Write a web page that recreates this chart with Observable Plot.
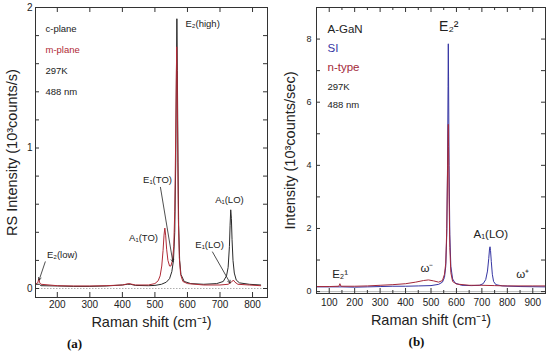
<!DOCTYPE html>
<html><head><meta charset="utf-8">
<script src="https://cdn.jsdelivr.net/npm/d3@7"></script>
<script src="https://cdn.jsdelivr.net/npm/@observablehq/plot@0.6"></script>
<style>
body{margin:0;background:#fff;}
#wrap{position:relative;width:550px;height:352px;overflow:hidden;background:#fff;}
#a,#b{position:absolute;top:0;}
#a{left:0;} #b{left:275px;}
</style></head><body>
<div id="wrap"><div id="a"></div><div id="b"></div></div>
<script>
// ---------- Panel (a) data: [Raman shift cm-1, intensity 10^3 counts/s] ----------
const cPlane = [[135,0.03],[145,0.03],[150,0.02],[200,0.018],[250,0.015],[300,0.015],[350,0.018],[400,0.025],[415,0.03],[425,0.03],[440,0.022],[480,0.02],[500,0.022],[520,0.03],[535,0.045],[545,0.07],[552,0.12],[557,0.2],[561,0.4],[564,0.9],[566,1.5],[567.5,1.92],[569,1.55],[571,0.9],[573,0.45],[576,0.2],[580,0.1],[590,0.05],[610,0.035],[650,0.03],[690,0.035],[710,0.05],[720,0.09],[725,0.15],[729,0.3],[731,0.45],[733,0.56],[735,0.5],[737,0.35],[740,0.2],[744,0.11],[750,0.06],[760,0.04],[790,0.03],[825,0.025]];
const mPlane = [[135,0.035],[140,0.04],[143,0.07],[146,0.04],[150,0.03],[200,0.02],[250,0.018],[300,0.018],[350,0.02],[400,0.025],[420,0.035],[440,0.025],[480,0.025],[500,0.035],[510,0.055],[516,0.09],[521,0.16],[525,0.27],[528,0.38],[530.5,0.43],[533,0.38],[536,0.28],[540,0.2],[545,0.16],[549,0.16],[554,0.2],[558,0.3],[561,0.55],[564,1.1],[566,1.55],[567,1.72],[568.5,1.5],[570,1.0],[572,0.5],[575,0.22],[579,0.1],[586,0.05],[600,0.035],[650,0.025],[700,0.025],[725,0.03],[735,0.045],[741,0.06],[746,0.045],[755,0.03],[790,0.025],[825,0.02]];
const xTicksA = [200,300,400,500,600,700,800];
const yTicksA = [0,0.2,0.4,0.6,0.8,1,1.2,1.4,1.6,1.8,2];
const yLabelsA = [0,1,2];
const legendA = ["c-plane","m-plane","297K","488 nm"];
const annoALabels = ["E₂(high)","A₁(TO)","E₁(TO)","E₁(LO)","A₁(LO)","E₂(low)"];
const annoAX = [594,465,508,668,729,215];
const annoAY = [1.88,0.363,0.776,0.313,0.633,0.242];
const arrowsA = {x1:[517,677,163], y1:[0.72,0.26,0.19], x2:[555,731,144], y2:[0.19,0.04,0.06]};

// ---------- Panel (b) data: [Raman shift cm-1, intensity 10^3 counts/sec] ----------
const siGaN = [[50,0.15],[100,0.15],[150,0.15],[200,0.14],[250,0.15],[300,0.16],[350,0.17],[400,0.17],[450,0.18],[500,0.19],[530,0.23],[545,0.3],[553,0.45],[558,0.8],[562,1.8],[565,4.0],[567,6.5],[568,7.85],[569,6.8],[571,4.0],[574,1.8],[578,0.8],[585,0.4],[595,0.27],[620,0.2],[660,0.19],[690,0.2],[705,0.25],[715,0.38],[722,0.65],[727,1.05],[730,1.35],[732,1.42],[734,1.3],[737,0.95],[741,0.55],[746,0.32],[755,0.22],[780,0.18],[850,0.16],[950,0.15]];
const nGaN = [[50,0.16],[100,0.16],[138,0.17],[142,0.25],[146,0.17],[200,0.17],[250,0.18],[300,0.2],[350,0.22],[400,0.25],[440,0.3],[470,0.35],[490,0.37],[510,0.34],[530,0.3],[545,0.35],[553,0.55],[558,0.9],[562,2.0],[565,3.8],[567,5.0],[568,5.3],[569,4.6],[571,3.0],[574,1.4],[578,0.6],[585,0.32],[600,0.24],[650,0.2],[700,0.2],[750,0.19],[800,0.18],[900,0.18],[950,0.18]];
const xTicksB = [100,200,300,400,500,600,700,800,900];
const xMinorB = [150,250,350,450,550,650,750,850];
const yTicksB = [0,1,2,3,4,5,6,7,8];
const yLabelsB = [0,2,4,6,8];
const legendB = ["A-GaN","SI","n-type","297K","488 nm"];
const annoBLabels = ["E₂²","A₁(LO)","ω⁻","ω⁺","E₂¹"];
const annoBX = [570,735,484,861,143];
const annoBY = [8.39,1.8,0.73,0.54,0.54];

// ---------- styling ----------
const FONT = '"Liberation Sans", Arial, Helvetica, sans-serif';
const INK = "#222";
const RED_A = "#b02a36";
const BLUE = "#3535a3";
const RED_B = "#a3283a";
const intFmt = d => String(d);

// ---------- Panel (a) ----------
{
  const W = 275, H = 352, mL = 35, mR = 8, mT = 7, mB = 55;
  const fw = W - mL - mR, fh = H - mT - mB;
  const legendColors = [INK, RED_A, INK, INK];
  const plot = Plot.plot({
    width: W, height: H, marginLeft: mL, marginRight: mR, marginTop: mT, marginBottom: mB,
    style: {fontFamily: FONT, fontSize: "10px", background: "transparent", overflow: "visible", color: INK},
    x: {domain: [133, 846]},
    y: {domain: [-0.064, 2]},
    marks: [
      Plot.ruleY([0], {stroke: "#999", strokeDasharray: "1.5,1.5", strokeWidth: 0.8}),
      Plot.line(cPlane, {x: d => d[0], y: d => d[1], stroke: "#2a2a2a", strokeWidth: 1}),
      Plot.line(mPlane, {x: d => d[0], y: d => d[1], stroke: RED_A, strokeWidth: 1}),
      Plot.tickX(xTicksA, {x: d => d, insetTop: fh - 5, stroke: "#333"}),
      Plot.tickX(xTicksA, {x: d => d, insetBottom: fh - 5, stroke: "#333"}),
      Plot.tickY(yTicksA, {y: d => d, insetRight: fw - 4, stroke: "#333"}),
      Plot.tickY(yTicksA, {y: d => d, insetLeft: fw - 4, stroke: "#333"}),
      Plot.axisX(xTicksA, {tickSize: 0, tickPadding: 3, fontSize: 10, label: null, tickFormat: intFmt}),
      Plot.axisY(yLabelsA, {tickSize: 0, tickPadding: 3, fontSize: 10, label: null, tickFormat: intFmt}),
      Plot.frame({stroke: "#333"}),
      ...legendA.map((t, i) => Plot.text([t], {text: d => d, frameAnchor: "top-left", dx: 10, dy: 21 + i * 21.2,
        textAnchor: "start", lineAnchor: "middle", fontSize: 9.5, fill: legendColors[i]})),
      Plot.text(annoALabels.slice(0, 1), {text: d => d, x: annoAX.slice(0, 1), y: annoAY.slice(0, 1), textAnchor: "start", fontSize: 9.5, fill: INK}),
      Plot.text(annoALabels.slice(1), {text: d => d, x: annoAX.slice(1), y: annoAY.slice(1), textAnchor: "middle", fontSize: 9.5, fill: INK}),
      Plot.arrow(arrowsA.x1.map((_, i) => i), {x1: i => arrowsA.x1[i], y1: i => arrowsA.y1[i], x2: i => arrowsA.x2[i], y2: i => arrowsA.y2[i],
        stroke: INK, strokeWidth: 0.8, headLength: 5}),
      Plot.text(["Raman shift (cm⁻¹)"], {text: d => d, frameAnchor: "bottom", dy: 25, textAnchor: "middle", lineAnchor: "middle", fontSize: 14.5, fill: INK}),
      Plot.text(["RS Intensity (10³counts/s)"], {text: d => d, frameAnchor: "left", dx: -23, rotate: -90, textAnchor: "middle", lineAnchor: "middle", fontSize: 14.5, fill: INK}),
      Plot.text(["(a)"], {text: d => d, frameAnchor: "bottom-left", dx: 39, dy: 46, textAnchor: "middle", lineAnchor: "middle",
        fontFamily: '"Liberation Serif", "Times New Roman", serif', fontWeight: "bold", fontSize: 13, fill: "#111"})
    ]
  });
  document.getElementById("a").appendChild(plot);
}

// ---------- Panel (b) ----------
{
  const W = 275, H = 352, mL = 41, mR = 5, mT = 7, mB = 59;
  const fw = W - mL - mR, fh = H - mT - mB;
  const legendColors = [INK, BLUE, RED_B, INK, INK];
  const legendSizes = [11.5, 11.5, 11.5, 9.5, 9.5];
  const legendDy = [22, 41, 60, 79, 97];
  const annoSizes = [14, 11.5, 11.5, 11.5, 11.5];
  const plot = Plot.plot({
    width: W, height: H, marginLeft: mL, marginRight: mR, marginTop: mT, marginBottom: mB,
    style: {fontFamily: FONT, fontSize: "10px", background: "transparent", overflow: "visible", color: INK},
    x: {domain: [50, 950]},
    y: {domain: [-0.06, 9]},
    marks: [
      Plot.ruleY([0], {stroke: "#aaa", strokeWidth: 0.8}),
      Plot.line(siGaN, {x: d => d[0], y: d => d[1], stroke: BLUE, strokeWidth: 1}),
      Plot.line(nGaN, {x: d => d[0], y: d => d[1], stroke: RED_B, strokeWidth: 1}),
      Plot.tickX(xTicksB, {x: d => d, insetTop: fh - 5, stroke: "#333"}),
      Plot.tickX(xTicksB, {x: d => d, insetBottom: fh - 5, stroke: "#333"}),
      Plot.tickX(xMinorB, {x: d => d, insetTop: fh - 3, stroke: "#333"}),
      Plot.tickX(xMinorB, {x: d => d, insetBottom: fh - 3, stroke: "#333"}),
      Plot.tickY(yTicksB, {y: d => d, insetRight: fw - 4, stroke: "#333"}),
      Plot.tickY(yTicksB, {y: d => d, insetLeft: fw - 4, stroke: "#333"}),
      Plot.axisX(xTicksB, {tickSize: 0, tickPadding: 5, fontSize: 10, label: null, tickFormat: intFmt}),
      Plot.axisY(yLabelsB, {tickSize: 0, tickPadding: 5, fontSize: 9, label: null, tickFormat: intFmt}),
      Plot.frame({stroke: "#333"}),
      ...legendB.map((t, i) => Plot.text([t], {text: d => d, frameAnchor: "top-left", dx: 11, dy: legendDy[i],
        textAnchor: "start", lineAnchor: "middle", fontSize: legendSizes[i], fill: legendColors[i]})),
      ...annoBLabels.map((t, i) => Plot.text([t], {text: d => d, x: annoBX[i], y: annoBY[i], textAnchor: "middle", lineAnchor: "middle",
        fontSize: annoSizes[i], fill: INK})),
      Plot.text(["Raman shift (cm⁻¹)"], {text: d => d, frameAnchor: "bottom", dy: 27, textAnchor: "middle", lineAnchor: "middle", fontSize: 14.5, fill: INK}),
      Plot.text(["Intensity (10³counts/sec)"], {text: d => d, frameAnchor: "left", dx: -26, rotate: -90, textAnchor: "middle", lineAnchor: "middle", fontSize: 14.5, fill: INK}),
      Plot.text(["(b)"], {text: d => d, frameAnchor: "bottom-left", dx: 100, dy: 48, textAnchor: "middle", lineAnchor: "middle",
        fontFamily: '"Liberation Serif", "Times New Roman", serif', fontWeight: "bold", fontSize: 13, fill: "#111"})
    ]
  });
  document.getElementById("b").appendChild(plot);
}
</script>
</body></html>
